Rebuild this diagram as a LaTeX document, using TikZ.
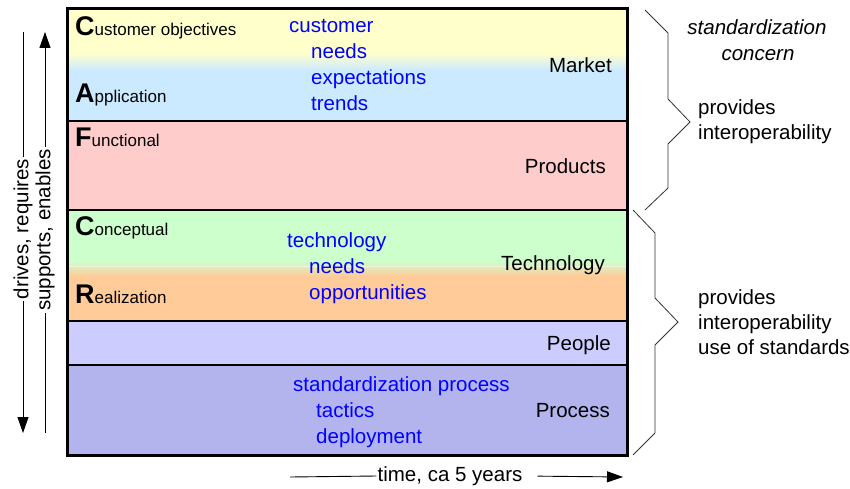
\documentclass[tikz,border=0pt]{standalone}
\usepackage{fontspec}
\setmainfont{Liberation Sans}
\usetikzlibrary{arrows.meta}
\definecolor{cyel}{HTML}{FFFFCC}
\definecolor{cblu}{HTML}{CCEAFF}
\definecolor{cpnk}{HTML}{FFCCCC}
\definecolor{cgrn}{HTML}{CCFFCC}
\definecolor{corg}{HTML}{FFCC99}
\definecolor{cppl}{HTML}{CCCCFF}
\definecolor{cprc}{HTML}{B3B3EE}
\definecolor{cbluetext}{HTML}{0000FF}
\tikzset{
  main/.style={font=\fontsize{20.5}{24}\selectfont, inner sep=0pt},
  bluetxt/.style={main, text=cbluetext, anchor=base west},
  lbl/.style={main, anchor=base east},
  layer/.style={inner sep=0pt, anchor=base west, font=\fontsize{17}{20}\selectfont},
  sep/.style={line width=2.5pt},
  brace/.style={line width=0.8pt, draw=black!80},
  side/.style={main, anchor=base west},
  italtxt/.style={main, font=\fontsize{20.5}{24}\selectfont\itshape, anchor=base},
  arr/.style={line width=0.9pt, -{Triangle[length=16pt,width=11pt]}},
}
\newcommand{\BigLetter}[1]{{\fontsize{27}{28}\selectfont\bfseries #1}}
\begin{document}
\begin{tikzpicture}[x=1pt,y=-1pt]
\useasboundingbox (0,0) rectangle (850,489);
% bands
\fill[cyel] (67,9) rectangle (627,53);
\shade[top color=cyel, bottom color=cblu] (67,53) rectangle (627,70);
\fill[cblu] (67,70) rectangle (627,121);
\fill[cpnk] (67,121) rectangle (627,210);
\fill[cgrn] (67,210) rectangle (627,261);
\shade[top color=cgrn, bottom color=corg] (67,261) rectangle (627,276);
\fill[corg] (67,276) rectangle (627,321);
\fill[cppl] (67,321) rectangle (627,365);
\fill[cprc] (67,365) rectangle (627,455);
\draw[white, opacity=0.5, line width=0.8pt] (67,266) -- (627,266);
\draw[sep] (67,121) -- (627,121);
\draw[sep] (67,210) -- (627,210);
\draw[sep] (67,321) -- (627,321);
\draw[sep] (67,365) -- (627,365);
\draw[line width=3pt] (67,9) rectangle (627,455);
% layer names
\node[layer] (co) at (75,36) {\BigLetter{C}ustomer objectives};
\node[layer] (ap) at (75,103) {\BigLetter{A}pplication};
\node[layer] (fu) at (75,147) {\BigLetter{F}unctional};
\node[layer] (ce) at (75,235) {\BigLetter{C}onceptual};
\node[layer] (re) at (75,303) {\BigLetter{R}ealization};
% blue texts
\node[bluetxt] (b1) at (289,33) {customer};
\node[bluetxt] (b2) at (311,59) {needs};
\node[bluetxt] (b3) at (311,85) {expectations};
\node[bluetxt] (b4) at (311,111) {trends};
\node[bluetxt] (t1) at (287,247) {technology};
\node[bluetxt] (t2) at (309,273) {needs};
\node[bluetxt] (t3) at (309,299) {opportunities};
\node[bluetxt] (s1) at (293,391) {standardization process};
\node[bluetxt] (s2) at (316,417) {tactics};
\node[bluetxt] (s3) at (316,443) {deployment};
% right labels
\node[lbl] (market) at (612,73) {Market};
\node[lbl] (products) at (606,173) {Products};
\node[lbl] (techn) at (605,270) {Technology};
\node[lbl] (people) at (611,350) {People};
\node[lbl] (process) at (610,417) {Process};
% braces
\draw[brace] (645,10) -- (668,33) -- (668,99) -- (690,122) -- (668,144) -- (668,188) -- (645,210);
\draw[brace] (633,210) -- (655,233) -- (655,298) -- (678,322) -- (655,345) -- (655,433) -- (633,455);
% side texts
\node[italtxt] (sc1) at (757,35) {standardization};
\node[italtxt] (sc2) at (758,61) {concern};
\node[side] (p1) at (698,115) {provides};
\node[side] (p2) at (698,140) {interoperability};
\node[side] (q1) at (698,304) {provides};
\node[side] (q2) at (698,329) {interoperability};
\node[side] (q3) at (698,354) {use of standards};
% left arrows
\coordinate (d1) at (23,32);
\coordinate (d2) at (23,433);
\node[main, rotate=90, inner sep=2pt] (dr) at (23,229) {drives, requires};
\draw[line width=0.9pt] (d1) -- (dr.east);
\draw[arr] (dr.west) -- (d2);
\coordinate (e1) at (45,32);
\coordinate (e2) at (45,433);
\node[main, rotate=90, inner sep=2pt] (su) at (45,230) {supports, enables};
\draw[arr] (su.east) -- (e1);
\draw[line width=0.9pt] (e2) -- (su.west);
% bottom arrow
\coordinate (h1) at (290,477);
\coordinate (h2) at (623,477);
\node[main, inner sep=1pt] (tm) at (450,476) {time, ca 5 years};
\draw[line width=0.9pt] (h1) -- (tm.west);
\draw[arr, shorten <=14pt] (tm.east) -- (h2);
\end{tikzpicture}
\end{document}
